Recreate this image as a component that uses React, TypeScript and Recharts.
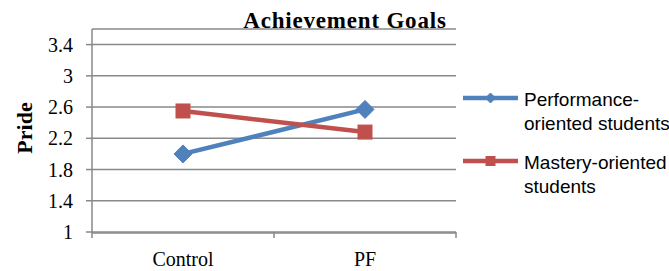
import React from 'react';
import { LineChart, Line, XAxis, YAxis, CartesianGrid, Legend } from 'recharts';

const categories = ['Control', 'PF'];
const performanceValues = [2.0, 2.57];
const masteryValues = [2.55, 2.28];
const yTicks = [1, 1.4, 1.8, 2.2, 2.6, 3, 3.4];
const yDomain = [1, 3.6];
const boundaryTicks = [0, 1, 2];
const seriesNames = ['Performance-oriented students', 'Mastery-oriented students'];
const seriesKeys = ['perf', 'mast'];
const seriesColors = ['#4F81BD', '#C0504D'];
const chartTitle = 'Achievement Goals';
const yAxisTitle = 'Pride';

const data = categories.map((c, i) => ({
  category: c,
  idx: i + 0.5,
  perf: performanceValues[i],
  mast: masteryValues[i],
}));

const SERIF = '"Liberation Serif", "Times New Roman", serif';
const SANS = '"Liberation Sans", Arial, sans-serif';
const GRID = '#898989';

const Diamond = (props: any) => {
  const { cx, cy, r, color } = props;
  if (cx == null || cy == null) return null;
  return (
    <path
      d={`M${cx},${cy - r} L${cx + r},${cy} L${cx},${cy + r} L${cx - r},${cy} Z`}
      fill={color}
      stroke={color}
    />
  );
};

const Square = (props: any) => {
  const { cx, cy, r, color } = props;
  if (cx == null || cy == null) return null;
  return <rect x={cx - r} y={cy - r} width={2 * r} height={2 * r} fill={color} stroke={color} />;
};

const renderLegend = () => (
  <div style={{ fontFamily: SANS, fontSize: 19, lineHeight: '24px', color: '#000' }}>
    {seriesNames.map((n, i) => (
      <div key={n} style={{ display: 'flex', alignItems: 'flex-start', marginBottom: i === 0 ? 15 : 0 }}>
        <svg width={61} height={20} style={{ flex: 'none' }}>
          <line x1={0} x2={55} y1={10} y2={10} stroke={seriesColors[i]} strokeWidth={4.5} />
          {i === 0 ? (
            <Diamond cx={27.5} cy={10} r={5} color={seriesColors[i]} />
          ) : (
            <Square cx={27.5} cy={10} r={4.5} color={seriesColors[i]} />
          )}
        </svg>
        <div style={{ width: 160, flex: 'none' }}>{n}</div>
      </div>
    ))}
  </div>
);

export default function App() {
  return (
    <div
      style={{
        position: 'absolute',
        left: 0,
        top: 0,
        width: 669,
        height: 271,
        background: '#fff',
        overflow: 'hidden',
      }}
    >
      <LineChart width={669} height={271} data={data} margin={{ top: 29, right: 213, bottom: 37, left: 0 }}>
        <CartesianGrid horizontal vertical={false} stroke={GRID} strokeWidth={1.5} />
        <XAxis
          xAxisId="cat"
          dataKey="category"
          scale="band"
          height={1}
          axisLine={{ stroke: GRID, strokeWidth: 1.5 }}
          tickLine={false}
          tickSize={6}
          tickMargin={13}
          interval={0}
          tick={{ fontFamily: SERIF, fontSize: 20, fill: '#000' }}
        />
        <XAxis
          xAxisId="bound"
          dataKey="idx"
          type="number"
          domain={[0, 2]}
          ticks={boundaryTicks}
          interval={0}
          height={1}
          axisLine={false}
          tickFormatter={() => ''}
          tickSize={6}
          tickLine={{ stroke: GRID, strokeWidth: 1.5 }}
        />
        <YAxis
          domain={yDomain}
          ticks={yTicks}
          width={92}
          axisLine={{ stroke: GRID, strokeWidth: 1.5 }}
          tickLine={{ stroke: GRID, strokeWidth: 1.5 }}
          tickSize={6}
          tickMargin={13}
          interval={0}
          allowDataOverflow
          tick={{ fontFamily: SERIF, fontSize: 20, fill: '#000' }}
        />
        <Legend
          layout="vertical"
          align="center"
          verticalAlign="middle"
          content={renderLegend}
          wrapperStyle={{ position: 'absolute', left: 463, top: 88, width: 221 }}
        />
        {seriesKeys.map((k, i) => (
          <Line
            key={k}
            xAxisId="cat"
            dataKey={k}
            name={seriesNames[i]}
            stroke={seriesColors[i]}
            strokeWidth={4.5}
            isAnimationActive={false}
            dot={(p: any) =>
              i === 0 ? (
                <Diamond key={`d${k}${p.index}`} cx={p.cx} cy={p.cy} r={9} color={seriesColors[i]} />
              ) : (
                <Square key={`d${k}${p.index}`} cx={p.cx} cy={p.cy} r={7} color={seriesColors[i]} />
              )
            }
            activeDot={false}
          />
        ))}
      </LineChart>
      <div
        style={{
          position: 'absolute',
          left: 235,
          width: 220,
          top: 9,
          textAlign: 'center',
          fontFamily: SERIF,
          fontWeight: 'bold',
          fontSize: 23,
          letterSpacing: '0.8px',
          lineHeight: '23px',
          color: '#000',
          whiteSpace: 'nowrap',
        }}
      >
        {chartTitle}
      </div>
      <div
        style={{
          position: 'absolute',
          left: 25,
          top: 128,
          transform: 'translate(-50%, -50%) rotate(-90deg)',
          fontFamily: SERIF,
          fontWeight: 'bold',
          fontSize: 22,
          lineHeight: '22px',
          color: '#000',
          whiteSpace: 'nowrap',
        }}
      >
        {yAxisTitle}
      </div>
    </div>
  );
}
